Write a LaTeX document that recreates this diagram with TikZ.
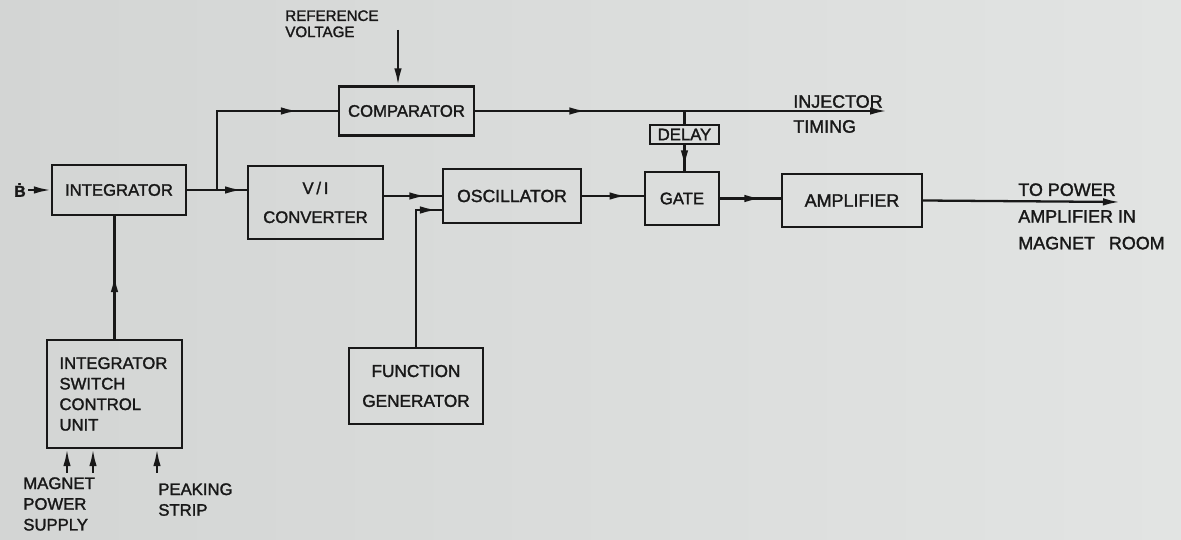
\documentclass[tikz,border=0pt]{standalone}
\usepackage{fontspec}
\setmainfont{Liberation Sans}[FakeBold=1.6]
\usetikzlibrary{arrows.meta, positioning, calc, decorations.markings}
\definecolor{photoBgL}{RGB}{211,213,212}
\definecolor{photoBgR}{RGB}{226,228,227}
\definecolor{inkLine}{RGB}{24,24,24}
\tikzset{
  Block/.style    = {draw=inkLine, line width=1.3pt, rectangle, align=center,
                     inner sep=1pt, text=inkLine,
                     font=\fontsize{9.5}{16.5}\selectfont},
  Label/.style    = {inner sep=0pt, align=left, text=inkLine,
                     font=\fontsize{9.5}{11.8}\selectfont},
  SigLine/.style  = {line width=1.3pt, draw=inkLine},
  EndArrow/.style = {SigLine, -{Latex[length=3.4mm,width=1.5mm]}},
  MidArrow/.style = {SigLine, postaction={decorate},
                     decoration={markings, mark=at position #1 with
                       {\arrow{Latex[length=3.4mm,width=1.5mm]}}}},
}

\begin{document}
\begin{tikzpicture}[x=0.02cm, y=-0.02cm]
    % photo background
    \shade[left color=photoBgL, right color=photoBgR] (0,0) rectangle (1181,540);
    \useasboundingbox (0,0) rectangle (1181,540);

    % blocks
    \node[Block, minimum width=2.68cm, minimum height=1.00cm] (integ) at (119,190) {INTEGRATOR};
    \node[Block, minimum width=2.70cm, minimum height=0.98cm] (comp)  at (406.5,111) {COMPARATOR};
    \node[Block, minimum width=2.70cm, minimum height=1.46cm] (vi)    at (315.5,202.5) {V\,/\,I\\CONVERTER};
    \node[Block, minimum width=2.76cm, minimum height=1.08cm, font=\fontsize{10}{12}\selectfont] (osc) at (512,196) {OSCILLATOR};
    \node[Block, minimum width=2.68cm, minimum height=1.52cm, font=\fontsize{9.8}{17}\selectfont] (fgen) at (416,386) {FUNCTION\\GENERATOR};
    \node[Block, minimum width=1.38cm, minimum height=0.38cm, font=\fontsize{9.5}{11}\selectfont] (delay) at (684.5,134.5) {DELAY};
    \node[Block, minimum width=1.48cm, minimum height=1.06cm] (gate)  at (682,198.5) {GATE};
    \node[Block, minimum width=2.80cm, minimum height=1.06cm, font=\fontsize{10.2}{12}\selectfont] (amp) at (852,200.5) {AMPLIFIER};
    \node[Block, minimum width=2.70cm, minimum height=2.16cm, text width=2.2cm, align=left,
          font=\fontsize{9.5}{11.7}\selectfont] (iscu) at (114.5,394) {INTEGRATOR\\SWITCH\\CONTROL\\UNIT};

    % free ends
    \coordinate (bIn)   at (28,190);
    \coordinate (split) at (217,190);
    \coordinate (refIn) at (398,30);
    \coordinate (injOut) at (887,111);
    \coordinate (ampOut) at (1120,202);
    \coordinate (magA)  at (67,473);
    \coordinate (magB)  at (93,473);
    \coordinate (peakIn) at (157,473);

    % labels
    \node[Label, font=\bfseries\fontsize{9}{9}\selectfont] (bLbl) at (20,190) {\.{B}};
    \node[Label, anchor=north west, font=\fontsize{8.6}{9.2}\selectfont] (refLbl) at (285,10) {REFERENCE\\VOLTAGE};
    \node[Label, anchor=west, font=\fontsize{10.2}{14.2}\selectfont] (injLbl) at (793,114) {INJECTOR\\TIMING};
    \node[Label, anchor=north west, font=\fontsize{10.2}{15.2}\selectfont] (outLbl) at (1018,183)
        {TO POWER\\AMPLIFIER IN\\MAGNET\hspace{0.5em} ROOM};
    \node[Label, anchor=north west] (magLbl) at (23,477) {MAGNET\\POWER\\SUPPLY};
    \node[Label, anchor=north west] (peakLbl) at (158,483) {PEAKING\\STRIP};

    % connectors
    \draw[EndArrow] (bIn) -- (integ.west);
    \draw[MidArrow=0.92] (integ.east) -- (integ.east -| vi.west);
    \draw[MidArrow=0.80] (split) |- (comp.west);
    \draw[EndArrow] (refIn) -- (refIn |- comp.north);
    \draw[MidArrow=0.27, EndArrow] (comp.east) -- (injOut);
    \draw[SigLine] (delay.north |- comp.east) -- (delay.north);
    \draw[MidArrow=0.86] (delay.south) -- (delay.south |- gate.north);
    \draw[MidArrow=0.73] (vi.east |- osc.west) -- (osc.west);
    \draw[MidArrow=0.97] (fgen.north) |- ([yshift=-0.28cm]osc.west);
    \draw[MidArrow=0.72] (osc.east) -- (osc.east -| gate.west);
    \draw[MidArrow=0.68] (gate.east) -- (gate.east -| amp.west);
    \draw[EndArrow] (amp.east) -- (ampOut);
    \draw[MidArrow=0.52] (iscu.north) -- (iscu.north |- integ.south);
    \draw[EndArrow] (magA) -- (magA |- iscu.south);
    \draw[EndArrow] (magB) -- (magB |- iscu.south);
    \draw[EndArrow] (peakIn) -- (peakIn |- iscu.south);
\end{tikzpicture}
\end{document}
